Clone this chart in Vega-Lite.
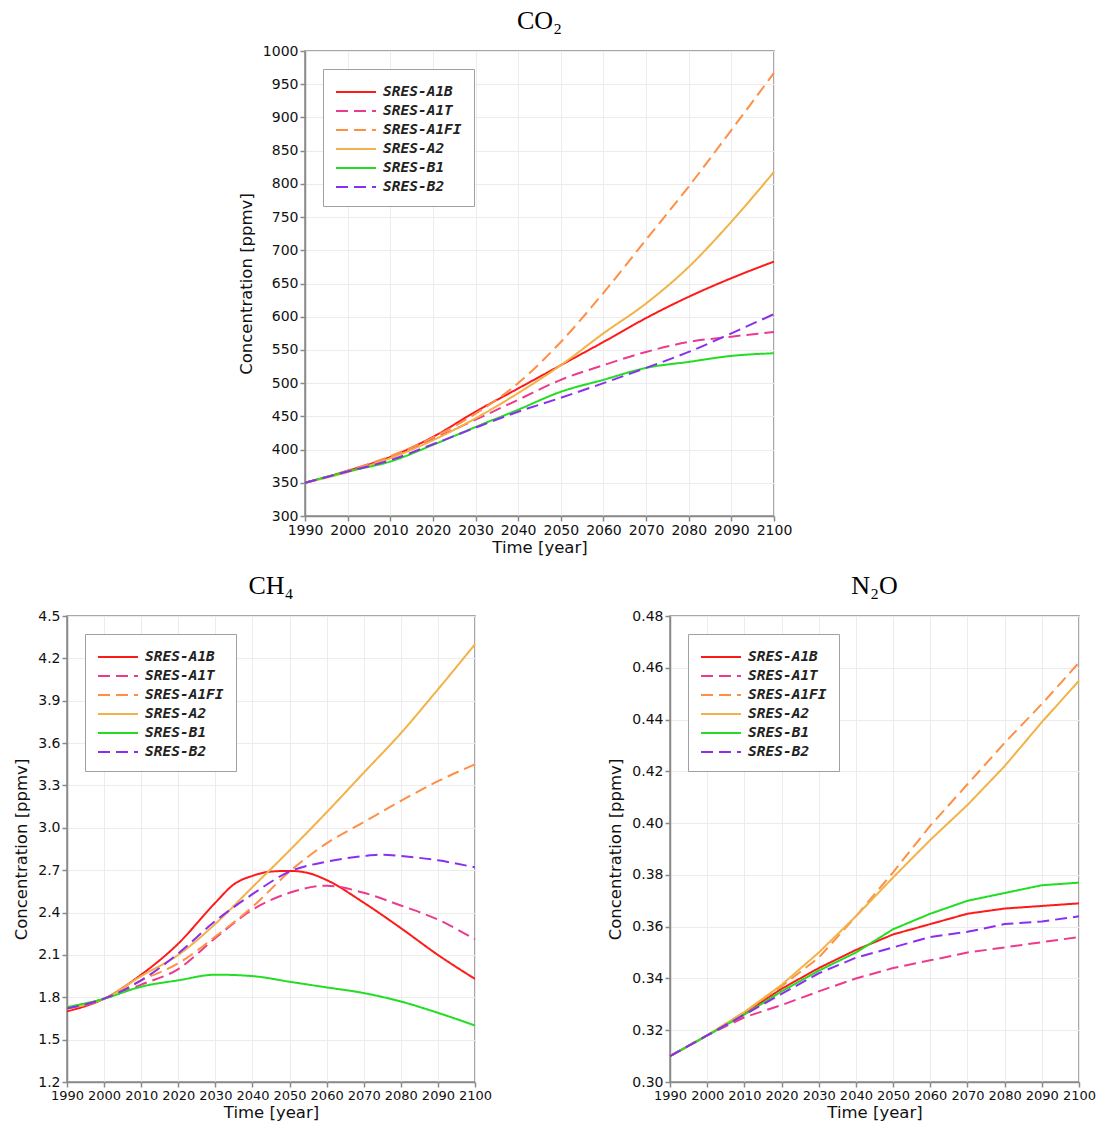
{
  "$schema": "https://vega.github.io/schema/vega-lite/v6.json",
  "padding": {"left": 12, "top": 7, "right": 0, "bottom": 0},
  "background": "white",
  "spacing": 15,
  "config": {
    "view": {"stroke": "#8a8a8a", "strokeWidth": 1.5},
    "axis": {"domainColor": "#8a8a8a", "domainWidth": 1.5, "tickColor": "#8a8a8a", "tickWidth": 1.5, "tickSize": 5, "gridColor": "#ececec", "gridWidth": 1, "labelFont": "DejaVu Sans", "labelFontSize": 14, "labelColor": "#111", "labelPadding": 2, "titleFont": "DejaVu Sans", "titleFontSize": 16.5, "titleFontWeight": "normal", "titleColor": "#111"},
    "axisX": {"labelFlush": false, "titlePadding": 2},
    "axisY": {"titlePadding": 8},
    "title": {"font": "Liberation Serif", "fontSize": 26, "fontWeight": "normal", "color": "#000", "anchor": "middle", "frame": "group", "offset": 10},
    "legend": {"orient": "none", "legendX": 18, "legendY": 18, "strokeColor": "#a0a0a0", "fillColor": "white", "padding": 12, "labelFont": "DejaVu Sans Mono", "labelFontSize": 14.5, "labelFontStyle": "italic", "labelFontWeight": "bold", "labelColor": "#222", "symbolType": "M-1,0H3", "symbolSize": 400, "symbolStrokeWidth": 2, "rowPadding": 1, "labelOffset": 26}
  },
  "datasets": {
    "co2": [
      {"year":1990,"scenario":"SRES-A1B","value":350},{"year":2000,"scenario":"SRES-A1B","value":368},{"year":2010,"scenario":"SRES-A1B","value":389},{"year":2020,"scenario":"SRES-A1B","value":419},{"year":2030,"scenario":"SRES-A1B","value":457},{"year":2040,"scenario":"SRES-A1B","value":492},{"year":2050,"scenario":"SRES-A1B","value":527},{"year":2060,"scenario":"SRES-A1B","value":562},{"year":2070,"scenario":"SRES-A1B","value":598},{"year":2080,"scenario":"SRES-A1B","value":630},{"year":2090,"scenario":"SRES-A1B","value":658},{"year":2100,"scenario":"SRES-A1B","value":683},
      {"year":1990,"scenario":"SRES-A1T","value":350},{"year":2000,"scenario":"SRES-A1T","value":368},{"year":2010,"scenario":"SRES-A1T","value":389},{"year":2020,"scenario":"SRES-A1T","value":416},{"year":2030,"scenario":"SRES-A1T","value":445},{"year":2040,"scenario":"SRES-A1T","value":475},{"year":2050,"scenario":"SRES-A1T","value":505},{"year":2060,"scenario":"SRES-A1T","value":527},{"year":2070,"scenario":"SRES-A1T","value":547},{"year":2080,"scenario":"SRES-A1T","value":562},{"year":2090,"scenario":"SRES-A1T","value":570},{"year":2100,"scenario":"SRES-A1T","value":577},
      {"year":1990,"scenario":"SRES-A1FI","value":350},{"year":2000,"scenario":"SRES-A1FI","value":368},{"year":2010,"scenario":"SRES-A1FI","value":390},{"year":2020,"scenario":"SRES-A1FI","value":418},{"year":2030,"scenario":"SRES-A1FI","value":454},{"year":2040,"scenario":"SRES-A1FI","value":500},{"year":2050,"scenario":"SRES-A1FI","value":562},{"year":2060,"scenario":"SRES-A1FI","value":636},{"year":2070,"scenario":"SRES-A1FI","value":716},{"year":2080,"scenario":"SRES-A1FI","value":796},{"year":2090,"scenario":"SRES-A1FI","value":881},{"year":2100,"scenario":"SRES-A1FI","value":967},
      {"year":1990,"scenario":"SRES-A2","value":350},{"year":2000,"scenario":"SRES-A2","value":366},{"year":2010,"scenario":"SRES-A2","value":387},{"year":2020,"scenario":"SRES-A2","value":414},{"year":2030,"scenario":"SRES-A2","value":447},{"year":2040,"scenario":"SRES-A2","value":485},{"year":2050,"scenario":"SRES-A2","value":527},{"year":2060,"scenario":"SRES-A2","value":575},{"year":2070,"scenario":"SRES-A2","value":620},{"year":2080,"scenario":"SRES-A2","value":675},{"year":2090,"scenario":"SRES-A2","value":743},{"year":2100,"scenario":"SRES-A2","value":818},
      {"year":1990,"scenario":"SRES-B1","value":350},{"year":2000,"scenario":"SRES-B1","value":367},{"year":2010,"scenario":"SRES-B1","value":382},{"year":2020,"scenario":"SRES-B1","value":407},{"year":2030,"scenario":"SRES-B1","value":434},{"year":2040,"scenario":"SRES-B1","value":460},{"year":2050,"scenario":"SRES-B1","value":487},{"year":2060,"scenario":"SRES-B1","value":505},{"year":2070,"scenario":"SRES-B1","value":523},{"year":2080,"scenario":"SRES-B1","value":532},{"year":2090,"scenario":"SRES-B1","value":541},{"year":2100,"scenario":"SRES-B1","value":545},
      {"year":1990,"scenario":"SRES-B2","value":350},{"year":2000,"scenario":"SRES-B2","value":367},{"year":2010,"scenario":"SRES-B2","value":384},{"year":2020,"scenario":"SRES-B2","value":408},{"year":2030,"scenario":"SRES-B2","value":433},{"year":2040,"scenario":"SRES-B2","value":457},{"year":2050,"scenario":"SRES-B2","value":478},{"year":2060,"scenario":"SRES-B2","value":500},{"year":2070,"scenario":"SRES-B2","value":523},{"year":2080,"scenario":"SRES-B2","value":547},{"year":2090,"scenario":"SRES-B2","value":575},{"year":2100,"scenario":"SRES-B2","value":604}
    ],
    "ch4": [
      {"year":1990,"scenario":"SRES-A1B","value":1.70},{"year":2000,"scenario":"SRES-A1B","value":1.79},{"year":2010,"scenario":"SRES-A1B","value":1.96},{"year":2020,"scenario":"SRES-A1B","value":2.18},{"year":2030,"scenario":"SRES-A1B","value":2.47},{"year":2035,"scenario":"SRES-A1B","value":2.60},{"year":2040,"scenario":"SRES-A1B","value":2.66},{"year":2045,"scenario":"SRES-A1B","value":2.69},{"year":2050,"scenario":"SRES-A1B","value":2.695},{"year":2055,"scenario":"SRES-A1B","value":2.68},{"year":2060,"scenario":"SRES-A1B","value":2.63},{"year":2070,"scenario":"SRES-A1B","value":2.47},{"year":2080,"scenario":"SRES-A1B","value":2.29},{"year":2090,"scenario":"SRES-A1B","value":2.10},{"year":2100,"scenario":"SRES-A1B","value":1.93},
      {"year":1990,"scenario":"SRES-A1T","value":1.72},{"year":2000,"scenario":"SRES-A1T","value":1.79},{"year":2010,"scenario":"SRES-A1T","value":1.89},{"year":2020,"scenario":"SRES-A1T","value":2.00},{"year":2030,"scenario":"SRES-A1T","value":2.22},{"year":2040,"scenario":"SRES-A1T","value":2.42},{"year":2050,"scenario":"SRES-A1T","value":2.54},{"year":2060,"scenario":"SRES-A1T","value":2.59},{"year":2070,"scenario":"SRES-A1T","value":2.54},{"year":2080,"scenario":"SRES-A1T","value":2.45},{"year":2090,"scenario":"SRES-A1T","value":2.35},{"year":2100,"scenario":"SRES-A1T","value":2.21},
      {"year":1990,"scenario":"SRES-A1FI","value":1.72},{"year":2000,"scenario":"SRES-A1FI","value":1.79},{"year":2010,"scenario":"SRES-A1FI","value":1.92},{"year":2020,"scenario":"SRES-A1FI","value":2.04},{"year":2030,"scenario":"SRES-A1FI","value":2.23},{"year":2040,"scenario":"SRES-A1FI","value":2.44},{"year":2050,"scenario":"SRES-A1FI","value":2.69},{"year":2060,"scenario":"SRES-A1FI","value":2.89},{"year":2070,"scenario":"SRES-A1FI","value":3.04},{"year":2080,"scenario":"SRES-A1FI","value":3.19},{"year":2090,"scenario":"SRES-A1FI","value":3.33},{"year":2100,"scenario":"SRES-A1FI","value":3.45},
      {"year":1990,"scenario":"SRES-A2","value":1.72},{"year":2000,"scenario":"SRES-A2","value":1.79},{"year":2010,"scenario":"SRES-A2","value":1.95},{"year":2020,"scenario":"SRES-A2","value":2.10},{"year":2030,"scenario":"SRES-A2","value":2.32},{"year":2040,"scenario":"SRES-A2","value":2.58},{"year":2050,"scenario":"SRES-A2","value":2.84},{"year":2060,"scenario":"SRES-A2","value":3.11},{"year":2070,"scenario":"SRES-A2","value":3.39},{"year":2080,"scenario":"SRES-A2","value":3.67},{"year":2090,"scenario":"SRES-A2","value":3.98},{"year":2100,"scenario":"SRES-A2","value":4.30},
      {"year":1990,"scenario":"SRES-B1","value":1.73},{"year":2000,"scenario":"SRES-B1","value":1.79},{"year":2010,"scenario":"SRES-B1","value":1.875},{"year":2020,"scenario":"SRES-B1","value":1.92},{"year":2030,"scenario":"SRES-B1","value":1.96},{"year":2040,"scenario":"SRES-B1","value":1.95},{"year":2050,"scenario":"SRES-B1","value":1.91},{"year":2060,"scenario":"SRES-B1","value":1.87},{"year":2070,"scenario":"SRES-B1","value":1.83},{"year":2080,"scenario":"SRES-B1","value":1.77},{"year":2090,"scenario":"SRES-B1","value":1.69},{"year":2100,"scenario":"SRES-B1","value":1.60},
      {"year":1990,"scenario":"SRES-B2","value":1.72},{"year":2000,"scenario":"SRES-B2","value":1.79},{"year":2010,"scenario":"SRES-B2","value":1.92},{"year":2020,"scenario":"SRES-B2","value":2.11},{"year":2030,"scenario":"SRES-B2","value":2.34},{"year":2040,"scenario":"SRES-B2","value":2.53},{"year":2050,"scenario":"SRES-B2","value":2.69},{"year":2060,"scenario":"SRES-B2","value":2.76},{"year":2070,"scenario":"SRES-B2","value":2.80},{"year":2075,"scenario":"SRES-B2","value":2.81},{"year":2080,"scenario":"SRES-B2","value":2.80},{"year":2090,"scenario":"SRES-B2","value":2.77},{"year":2100,"scenario":"SRES-B2","value":2.72}
    ],
    "n2o": [
      {"year":1990,"scenario":"SRES-A1B","value":0.310},{"year":2000,"scenario":"SRES-A1B","value":0.318},{"year":2010,"scenario":"SRES-A1B","value":0.3265},{"year":2020,"scenario":"SRES-A1B","value":0.336},{"year":2030,"scenario":"SRES-A1B","value":0.344},{"year":2040,"scenario":"SRES-A1B","value":0.351},{"year":2050,"scenario":"SRES-A1B","value":0.357},{"year":2060,"scenario":"SRES-A1B","value":0.361},{"year":2070,"scenario":"SRES-A1B","value":0.365},{"year":2080,"scenario":"SRES-A1B","value":0.367},{"year":2090,"scenario":"SRES-A1B","value":0.368},{"year":2100,"scenario":"SRES-A1B","value":0.369},
      {"year":1990,"scenario":"SRES-A1T","value":0.310},{"year":2000,"scenario":"SRES-A1T","value":0.318},{"year":2010,"scenario":"SRES-A1T","value":0.325},{"year":2020,"scenario":"SRES-A1T","value":0.3297},{"year":2030,"scenario":"SRES-A1T","value":0.335},{"year":2040,"scenario":"SRES-A1T","value":0.340},{"year":2050,"scenario":"SRES-A1T","value":0.344},{"year":2060,"scenario":"SRES-A1T","value":0.347},{"year":2070,"scenario":"SRES-A1T","value":0.350},{"year":2080,"scenario":"SRES-A1T","value":0.352},{"year":2090,"scenario":"SRES-A1T","value":0.354},{"year":2100,"scenario":"SRES-A1T","value":0.356},
      {"year":1990,"scenario":"SRES-A1FI","value":0.310},{"year":2000,"scenario":"SRES-A1FI","value":0.318},{"year":2010,"scenario":"SRES-A1FI","value":0.327},{"year":2020,"scenario":"SRES-A1FI","value":0.337},{"year":2030,"scenario":"SRES-A1FI","value":0.348},{"year":2040,"scenario":"SRES-A1FI","value":0.364},{"year":2050,"scenario":"SRES-A1FI","value":0.381},{"year":2060,"scenario":"SRES-A1FI","value":0.399},{"year":2070,"scenario":"SRES-A1FI","value":0.415},{"year":2080,"scenario":"SRES-A1FI","value":0.431},{"year":2090,"scenario":"SRES-A1FI","value":0.446},{"year":2100,"scenario":"SRES-A1FI","value":0.462},
      {"year":1990,"scenario":"SRES-A2","value":0.310},{"year":2000,"scenario":"SRES-A2","value":0.318},{"year":2010,"scenario":"SRES-A2","value":0.327},{"year":2020,"scenario":"SRES-A2","value":0.3375},{"year":2030,"scenario":"SRES-A2","value":0.350},{"year":2040,"scenario":"SRES-A2","value":0.364},{"year":2050,"scenario":"SRES-A2","value":0.379},{"year":2060,"scenario":"SRES-A2","value":0.3935},{"year":2070,"scenario":"SRES-A2","value":0.407},{"year":2080,"scenario":"SRES-A2","value":0.422},{"year":2090,"scenario":"SRES-A2","value":0.439},{"year":2100,"scenario":"SRES-A2","value":0.455},
      {"year":1990,"scenario":"SRES-B1","value":0.310},{"year":2000,"scenario":"SRES-B1","value":0.318},{"year":2010,"scenario":"SRES-B1","value":0.326},{"year":2020,"scenario":"SRES-B1","value":0.335},{"year":2030,"scenario":"SRES-B1","value":0.343},{"year":2040,"scenario":"SRES-B1","value":0.350},{"year":2050,"scenario":"SRES-B1","value":0.359},{"year":2060,"scenario":"SRES-B1","value":0.365},{"year":2070,"scenario":"SRES-B1","value":0.370},{"year":2080,"scenario":"SRES-B1","value":0.373},{"year":2090,"scenario":"SRES-B1","value":0.376},{"year":2100,"scenario":"SRES-B1","value":0.377},
      {"year":1990,"scenario":"SRES-B2","value":0.310},{"year":2000,"scenario":"SRES-B2","value":0.318},{"year":2010,"scenario":"SRES-B2","value":0.326},{"year":2020,"scenario":"SRES-B2","value":0.334},{"year":2030,"scenario":"SRES-B2","value":0.342},{"year":2040,"scenario":"SRES-B2","value":0.348},{"year":2050,"scenario":"SRES-B2","value":0.352},{"year":2060,"scenario":"SRES-B2","value":0.356},{"year":2070,"scenario":"SRES-B2","value":0.358},{"year":2080,"scenario":"SRES-B2","value":0.361},{"year":2090,"scenario":"SRES-B2","value":0.362},{"year":2100,"scenario":"SRES-B2","value":0.364}
    ]
  },
  "resolve": {"scale": {"x": "independent", "y": "independent", "color": "independent", "strokeDash": "independent"}},
  "vconcat": [
    {
      "spacing": 20,
      "resolve": {"scale": {"x": "independent", "y": "independent", "color": "independent", "strokeDash": "independent"}},
      "hconcat": [
        {"width": 150, "height": 10, "view": {"stroke": null}, "data": {"values": [{"a": 1}]}, "mark": {"type": "point", "opacity": 0}},
        {
          "width": 469, "height": 465,
          "title": {"text": "CO₂"},
          "data": {"name": "co2"},
          "mark": {"type": "line", "interpolate": "monotone", "strokeWidth": 2},
          "encoding": {
            "x": {"field": "year", "type": "quantitative", "scale": {"domain": [1990, 2100], "nice": false}, "axis": {"values": [1990,2000,2010,2020,2030,2040,2050,2060,2070,2080,2090,2100], "format": "d", "title": "Time [year]"}},
            "y": {"field": "value", "type": "quantitative", "scale": {"domain": [300, 1000], "nice": false, "zero": false}, "axis": {"values": [300,350,400,450,500,550,600,650,700,750,800,850,900,950,1000], "format": "d", "title": "Concentration [ppmv]"}},
            "color": {"field": "scenario", "type": "nominal", "sort": null, "scale": {"domain": ["SRES-A1B","SRES-A1T","SRES-A1FI","SRES-A2","SRES-B1","SRES-B2"], "range": ["#ff1a1a","#ec3a8e","#ff8f45","#f2b247","#22dd22","#8a2ef0"]}, "legend": {"title": null}},
            "strokeDash": {"field": "scenario", "type": "nominal", "sort": null, "scale": {"domain": ["SRES-A1B","SRES-A1T","SRES-A1FI","SRES-A2","SRES-B1","SRES-B2"], "range": [[1,0],[12,6],[12,6],[1,0],[1,0],[12,6]]}, "legend": {"title": null}}
          }
        }
      ]
    },
    {
      "spacing": 114,
      "resolve": {"scale": {"x": "independent", "y": "independent", "color": "independent", "strokeDash": "independent"}},
      "hconcat": [
        {
          "width": 408, "height": 466,
          "title": {"text": "CH₄"},
          "data": {"name": "ch4"},
          "mark": {"type": "line", "interpolate": "monotone", "strokeWidth": 2},
          "encoding": {
            "x": {"field": "year", "type": "quantitative", "scale": {"domain": [1990, 2100], "nice": false}, "axis": {"values": [1990,2000,2010,2020,2030,2040,2050,2060,2070,2080,2090,2100], "format": "d", "labelFontSize": 13, "title": "Time [year]"}},
            "y": {"field": "value", "type": "quantitative", "scale": {"domain": [1.2, 4.5], "nice": false, "zero": false}, "axis": {"values": [1.2,1.5,1.8,2.1,2.4,2.7,3.0,3.3,3.6,3.9,4.2,4.5], "format": ".1f", "title": "Concentration [ppmv]"}},
            "color": {"field": "scenario", "type": "nominal", "sort": null, "scale": {"domain": ["SRES-A1B","SRES-A1T","SRES-A1FI","SRES-A2","SRES-B1","SRES-B2"], "range": ["#ff1a1a","#ec3a8e","#ff8f45","#f2b247","#22dd22","#8a2ef0"]}, "legend": {"title": null}},
            "strokeDash": {"field": "scenario", "type": "nominal", "sort": null, "scale": {"domain": ["SRES-A1B","SRES-A1T","SRES-A1FI","SRES-A2","SRES-B1","SRES-B2"], "range": [[1,0],[12,6],[12,6],[1,0],[1,0],[12,6]]}, "legend": {"title": null}}
          }
        },
        {
          "width": 409, "height": 466,
          "title": {"text": "N₂O"},
          "data": {"name": "n2o"},
          "mark": {"type": "line", "interpolate": "linear", "strokeWidth": 2},
          "encoding": {
            "x": {"field": "year", "type": "quantitative", "scale": {"domain": [1990, 2100], "nice": false}, "axis": {"values": [1990,2000,2010,2020,2030,2040,2050,2060,2070,2080,2090,2100], "format": "d", "labelFontSize": 13, "title": "Time [year]"}},
            "y": {"field": "value", "type": "quantitative", "scale": {"domain": [0.30, 0.48], "nice": false, "zero": false}, "axis": {"values": [0.30,0.32,0.34,0.36,0.38,0.40,0.42,0.44,0.46,0.48], "format": ".2f", "title": "Concentration [ppmv]"}},
            "color": {"field": "scenario", "type": "nominal", "sort": null, "scale": {"domain": ["SRES-A1B","SRES-A1T","SRES-A1FI","SRES-A2","SRES-B1","SRES-B2"], "range": ["#ff1a1a","#ec3a8e","#ff8f45","#f2b247","#22dd22","#8a2ef0"]}, "legend": {"title": null}},
            "strokeDash": {"field": "scenario", "type": "nominal", "sort": null, "scale": {"domain": ["SRES-A1B","SRES-A1T","SRES-A1FI","SRES-A2","SRES-B1","SRES-B2"], "range": [[1,0],[12,6],[12,6],[1,0],[1,0],[12,6]]}, "legend": {"title": null}}
          }
        }
      ]
    }
  ]
}
